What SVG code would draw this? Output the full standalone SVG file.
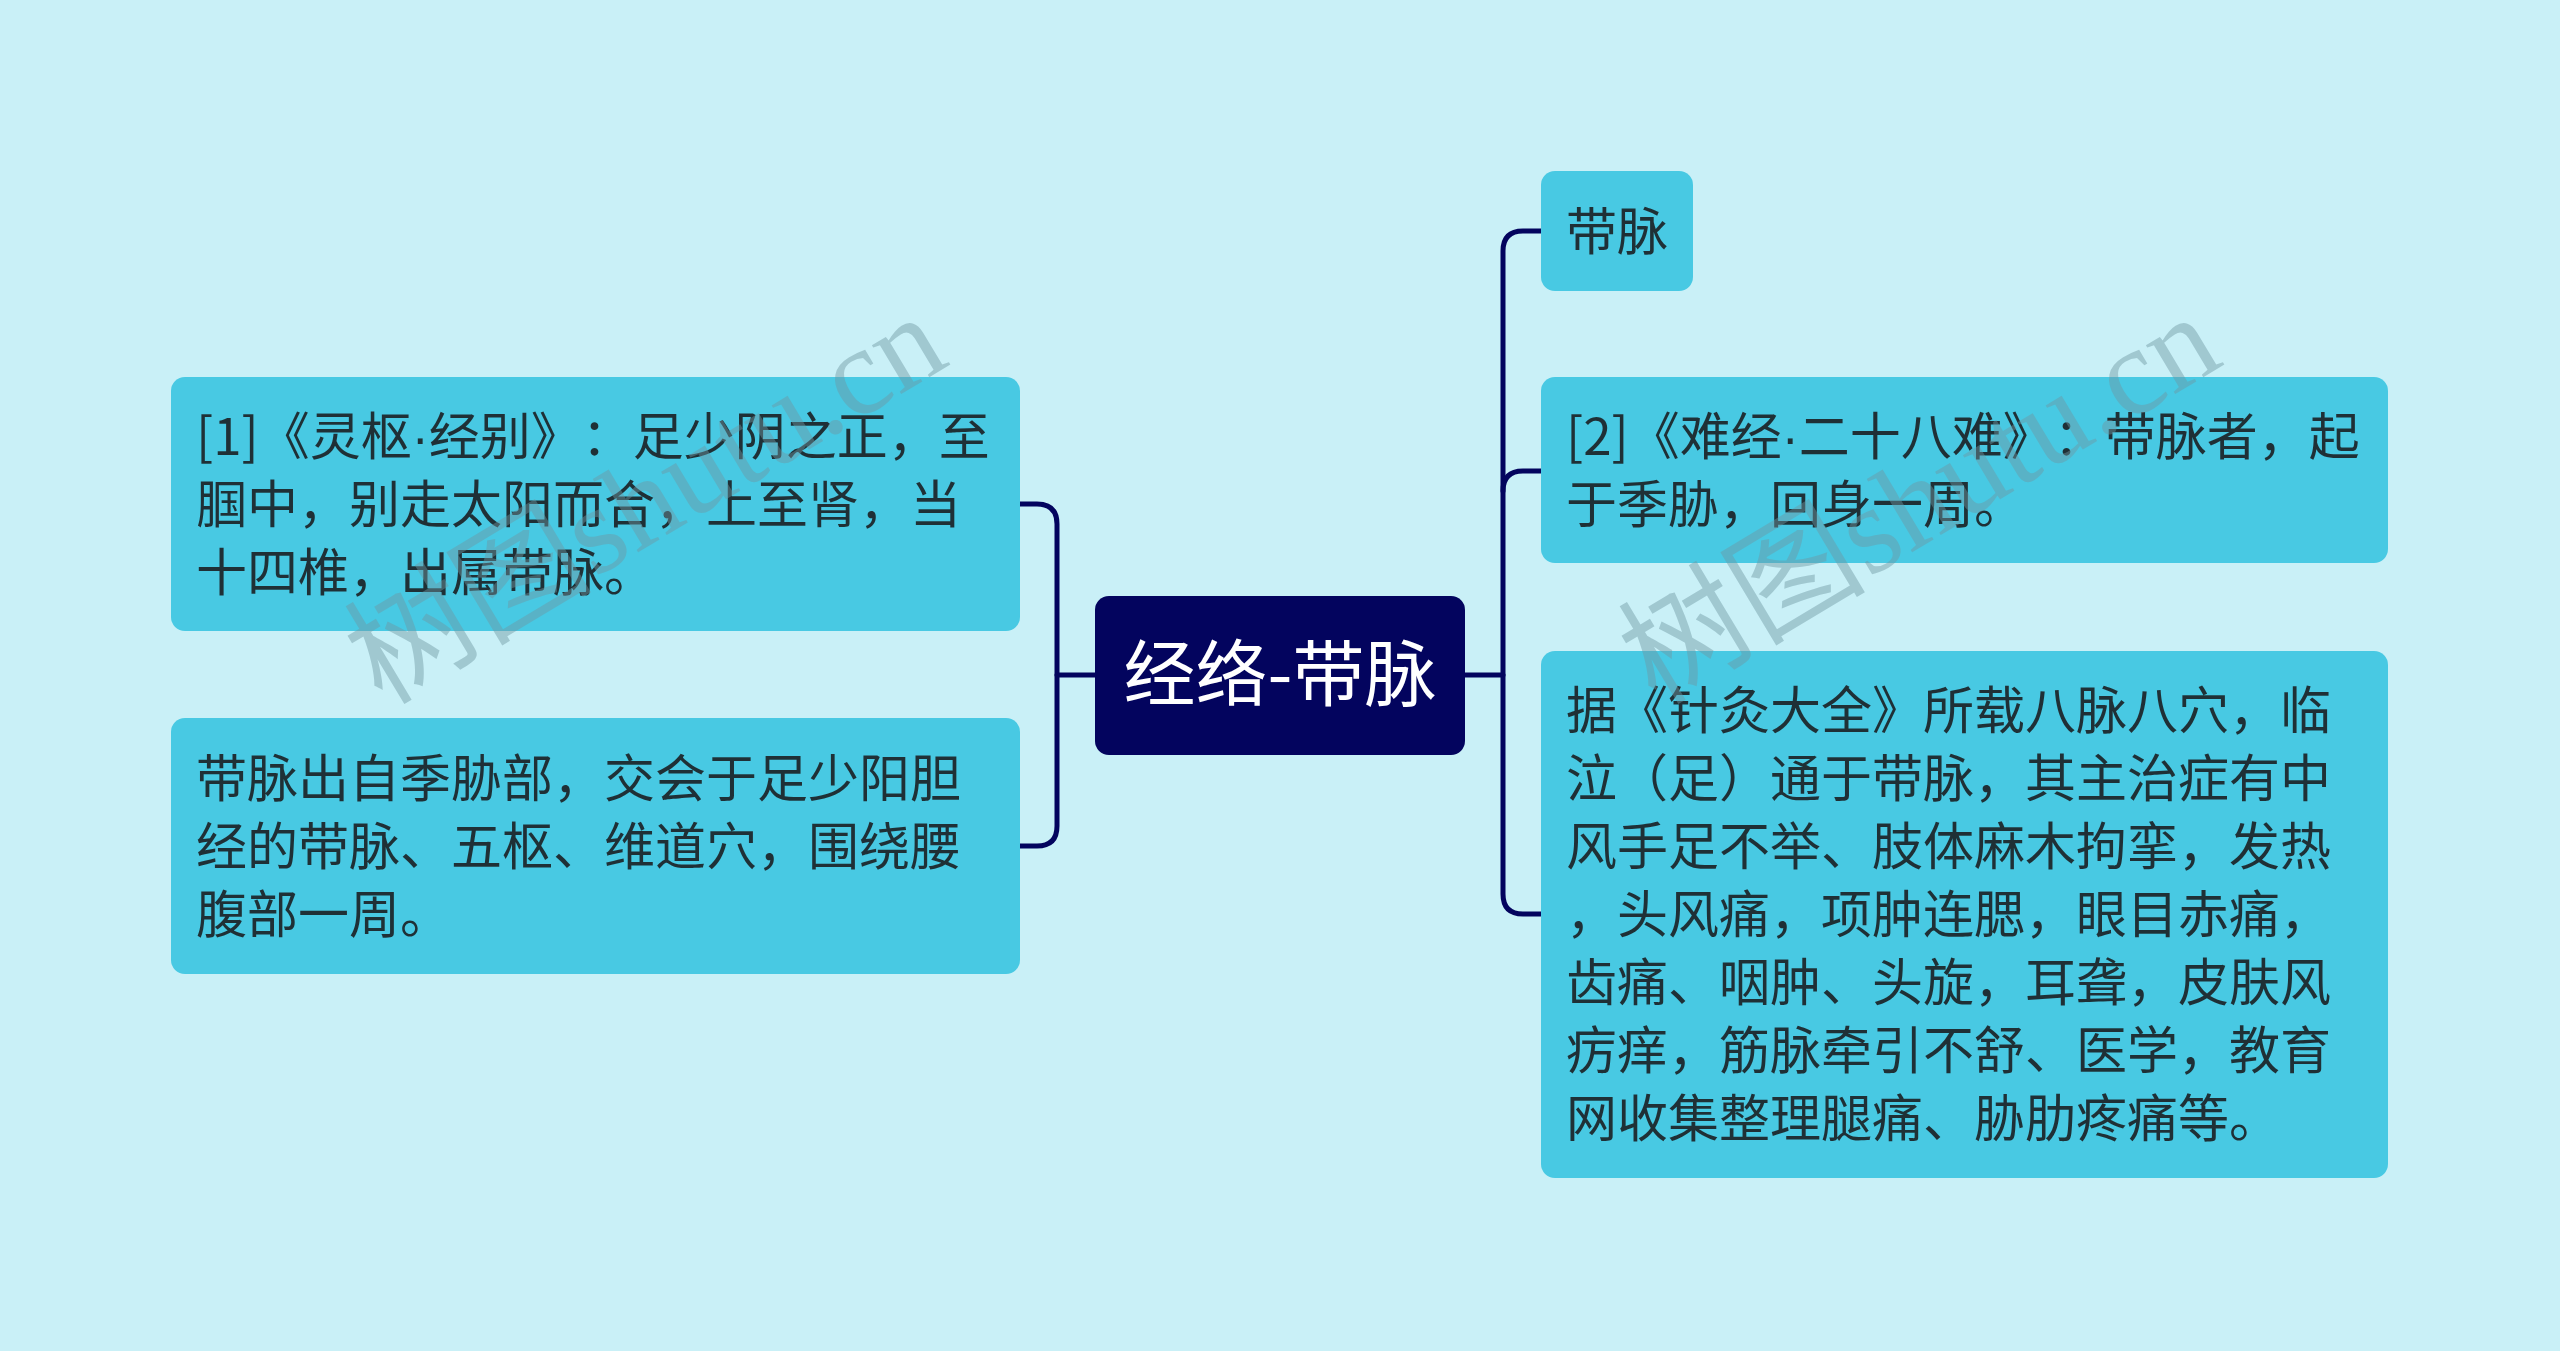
<svg xmlns="http://www.w3.org/2000/svg" width="2560" height="1351" viewBox="0 0 2560 1351">
<style>
.bg{fill:#C9F0F7}
.node{fill:#48C9E3}
.root{fill:#03045E}
.t{font-family:"Noto Sans CJK SC","Noto Sans",sans-serif;font-size:51px;fill:#1f3036;text-spacing-trim:space-all}
.dot{font-family:"Liberation Sans",sans-serif}
.rt{font-family:"Noto Sans CJK SC","Noto Sans",sans-serif;font-size:72px;fill:#ffffff}
.conn{fill:none;stroke:#03045E;stroke-width:5;stroke-linecap:round}
.wm{font-family:"Liberation Serif","Noto Sans CJK SC",serif;font-size:124px;fill:#6f98a3;opacity:0.45}
</style>
<rect class="bg" x="0" y="0" width="2560" height="1351"/>
<g id="connectors">
<path class="conn" d="M1095,675 H1057"/>
<path class="conn" d="M1020,504 H1037 Q1057,504 1057,524 V826 Q1057,846 1037,846 H1020"/>
<path class="conn" d="M1465,675 H1503"/>
<path class="conn" d="M1541,231 H1523 Q1503,231 1503,251 V894 Q1503,914 1523,914 H1541"/>
<path class="conn" d="M1503,491 Q1503,471 1523,471 H1541"/>
</g>
<g id="root">
<rect class="root" x="1095" y="596" width="370" height="159" rx="14"/>
<text class="rt" x="1280" y="700" text-anchor="middle">经络-带脉</text>
</g>
<g id="L1">
<rect class="node" x="171" y="377" width="849" height="254" rx="14"/>
<text class="t"><tspan x="196" y="455">[1]《灵枢<tspan class="dot">·</tspan>经别》：足少阴之正，至</tspan><tspan x="196" y="523">腘中，别走太阳而合，上至肾，当</tspan><tspan x="196" y="591">十四椎，出属带脉。</tspan></text>
</g>
<g id="L2">
<rect class="node" x="171" y="718" width="849" height="256" rx="14"/>
<text class="t"><tspan x="196" y="797">带脉出自季胁部，交会于足少阳胆</tspan><tspan x="196" y="865">经的带脉、五枢、维道穴，围绕腰</tspan><tspan x="196" y="933">腹部一周。</tspan></text>
</g>
<g id="R0">
<rect class="node" x="1541" y="171" width="152" height="120" rx="14"/>
<text class="t" x="1566" y="250">带脉</text>
</g>
<g id="R1">
<rect class="node" x="1541" y="377" width="847" height="186" rx="14"/>
<text class="t"><tspan x="1566" y="455">[2]《难经<tspan class="dot">·</tspan>二十八难》：带脉者，起</tspan><tspan x="1566" y="523">于季胁，回身一周。</tspan></text>
</g>
<g id="R2">
<rect class="node" x="1541" y="651" width="847" height="527" rx="14"/>
<text class="t"><tspan x="1566" y="729">据《针灸大全》所载八脉八穴，临</tspan><tspan x="1566" y="797">泣（足）通于带脉，其主治症有中</tspan><tspan x="1566" y="865">风手足不举、肢体麻木拘挛，发热</tspan><tspan x="1566" y="933">，头风痛，项肿连腮，眼目赤痛，</tspan><tspan x="1566" y="1001">齿痛、咽肿、头旋，耳聋，皮肤风</tspan><tspan x="1566" y="1069">疠痒，筋脉牵引不舒、医学，教育</tspan><tspan x="1566" y="1137">网收集整理腿痛、胁肋疼痛等。</tspan></text>
</g>
<g id="watermarks">
<text class="wm" transform="translate(382,706) rotate(-31)">树图shutu.cn</text>
<text class="wm" transform="translate(1656,706) rotate(-31)">树图shutu.cn</text>
</g>
</svg>
